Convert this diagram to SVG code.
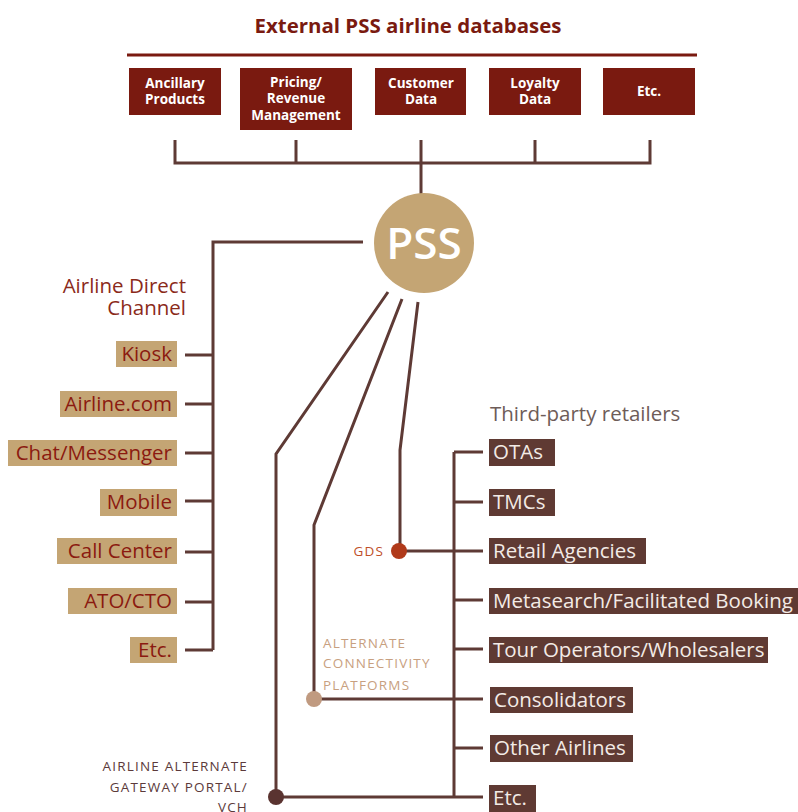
<svg xmlns="http://www.w3.org/2000/svg" width="798" height="812" viewBox="0 0 798 812">
<style>
.title{font-family:"Open Sans","Liberation Sans",sans-serif;font-weight:bold;font-size:19px;fill:#7a1a10}
.db{fill:#7a1a10}
.dbt{font-family:"Open Sans","Liberation Sans",sans-serif;font-weight:bold;font-size:13.5px;fill:#ffffff;text-anchor:middle}
.tan{fill:#c4a574}
.lt{font-family:"Open Sans","Liberation Sans",sans-serif;font-size:20.5px;fill:#8b1a10;text-anchor:end}
.rb{fill:#5f3a33}
.rt{font-family:"Open Sans","Liberation Sans",sans-serif;font-size:20.5px;fill:#f3ebe6}
.hd{font-family:"Open Sans","Liberation Sans",sans-serif;font-size:20.5px}
.sm{font-family:"Open Sans","Liberation Sans",sans-serif;font-size:13.5px;letter-spacing:1.2px}
.ln{fill:none;stroke:#5e3a35;stroke-width:3}
</style>
<rect width="798" height="812" fill="#ffffff"/>

<text class="title" x="408" y="33" text-anchor="middle" textLength="307" lengthAdjust="spacingAndGlyphs">External PSS airline databases</text>
<line x1="127" y1="55" x2="697" y2="55" stroke="#7a1a10" stroke-width="3"/>

<g id="db-ancillary"><rect class="db" x="129" y="68" width="92" height="47"/><text class="dbt" x="175" y="88">Ancillary</text><text class="dbt" x="175" y="104">Products</text></g>
<g id="db-pricing"><rect class="db" x="240" y="68" width="112" height="62"/><text class="dbt" x="296" y="87">Pricing/</text><text class="dbt" x="296" y="103">Revenue</text><text class="dbt" x="296" y="120">Management</text></g>
<g id="db-customer"><rect class="db" x="375" y="68" width="91" height="47"/><text class="dbt" x="421" y="88">Customer</text><text class="dbt" x="421" y="104">Data</text></g>
<g id="db-loyalty"><rect class="db" x="489" y="68" width="92" height="47"/><text class="dbt" x="535" y="88">Loyalty</text><text class="dbt" x="535" y="104">Data</text></g>
<g id="db-etc"><rect class="db" x="603" y="68" width="92" height="47"/><text class="dbt" x="649" y="96">Etc.</text></g>

<g id="connectors">
<path class="ln" d="M175 140V163H650V140M296 140V163M535 140V163M421 140V194"/>
<path class="ln" d="M363 242H213V650"/>
<path class="ln" d="M185 355H213M185 404H213M185 453H213M185 501H213M185 552H213M185 602H213M185 650H213"/>
<path class="ln" d="M454 452V797M454 452H483M454 502H483M454 600H483M454 649H483M454 748H483"/>
<path class="ln" d="M418 302L400 450V551H483"/>
<path class="ln" d="M402 299L314 525V699H483"/>
<path class="ln" d="M388 292L276 454V797H483"/>
</g>

<g id="pss"><circle cx="424" cy="243" r="50" fill="#c4a574"/><text x="424" y="259" text-anchor="middle" font-family="Open Sans, Liberation Sans, sans-serif" font-size="44" font-weight="600" fill="#ffffff">PSS</text></g>

<g id="direct-label"><text class="hd" x="186" y="293" text-anchor="end" fill="#8b2a1a">Airline Direct</text><text class="hd" x="186" y="315" text-anchor="end" fill="#8b2a1a">Channel</text></g>

<g id="kiosk"><rect class="tan" x="116" y="341" width="61" height="26"/><text class="lt" x="172" y="361">Kiosk</text></g>
<g id="airline-com"><rect class="tan" x="60" y="391" width="117" height="26"/><text class="lt" x="172" y="411">Airline.com</text></g>
<g id="chat"><rect class="tan" x="8" y="440" width="169" height="26"/><text class="lt" x="172" y="460">Chat/Messenger</text></g>
<g id="mobile"><rect class="tan" x="100" y="489" width="77" height="27"/><text class="lt" x="172" y="509">Mobile</text></g>
<g id="call-center"><rect class="tan" x="57" y="538" width="120" height="26"/><text class="lt" x="172" y="558">Call Center</text></g>
<g id="ato"><rect class="tan" x="68" y="588" width="109" height="26"/><text class="lt" x="172" y="608">ATO/CTO</text></g>
<g id="left-etc"><rect class="tan" x="130" y="637" width="47" height="26"/><text class="lt" x="172" y="657">Etc.</text></g>

<g id="third-label"><text class="hd" x="490" y="421" fill="#6e5c58">Third-party retailers</text></g>

<g id="otas"><rect class="rb" x="489" y="439" width="66" height="27"/><text class="rt" x="493" y="459">OTAs</text></g>
<g id="tmcs"><rect class="rb" x="489" y="489" width="66" height="27"/><text class="rt" x="493" y="509">TMCs</text></g>
<g id="retail"><rect class="rb" x="489" y="538" width="157" height="26"/><text class="rt" x="493" y="558">Retail Agencies</text></g>
<g id="meta"><rect class="rb" x="489" y="588" width="309" height="26"/><text class="rt" x="493" y="608">Metasearch/Facilitated Booking</text></g>
<g id="tour"><rect class="rb" x="489" y="637" width="279" height="26"/><text class="rt" x="493" y="657">Tour Operators/Wholesalers</text></g>
<g id="consolidators"><rect class="rb" x="490" y="687" width="143" height="26"/><text class="rt" x="494" y="707">Consolidators</text></g>
<g id="other"><rect class="rb" x="490" y="735" width="143" height="27"/><text class="rt" x="494" y="755">Other Airlines</text></g>
<g id="right-etc"><rect class="rb" x="489" y="785" width="47" height="27"/><text class="rt" x="493" y="805">Etc.</text></g>

<g id="gds"><circle cx="399" cy="551" r="8" fill="#b03a1a"/><text class="sm" x="384" y="556" text-anchor="end" fill="#c0502a">GDS</text></g>
<g id="acp"><circle cx="314" cy="699" r="8" fill="#c09a80"/><text class="sm" x="323" y="648" fill="#c8a080">ALTERNATE</text><text class="sm" x="323" y="668" fill="#c8a080">CONNECTIVITY</text><text class="sm" x="323" y="690" fill="#c8a080">PLATFORMS</text></g>
<g id="aagp"><circle cx="276" cy="797" r="8" fill="#5a3330"/><text class="sm" x="248" y="771" text-anchor="end" fill="#5c3a3a">AIRLINE ALTERNATE</text><text class="sm" x="248" y="792" text-anchor="end" fill="#5c3a3a">GATEWAY PORTAL/</text><text class="sm" x="248" y="812" text-anchor="end" fill="#5c3a3a">VCH</text></g>
</svg>
